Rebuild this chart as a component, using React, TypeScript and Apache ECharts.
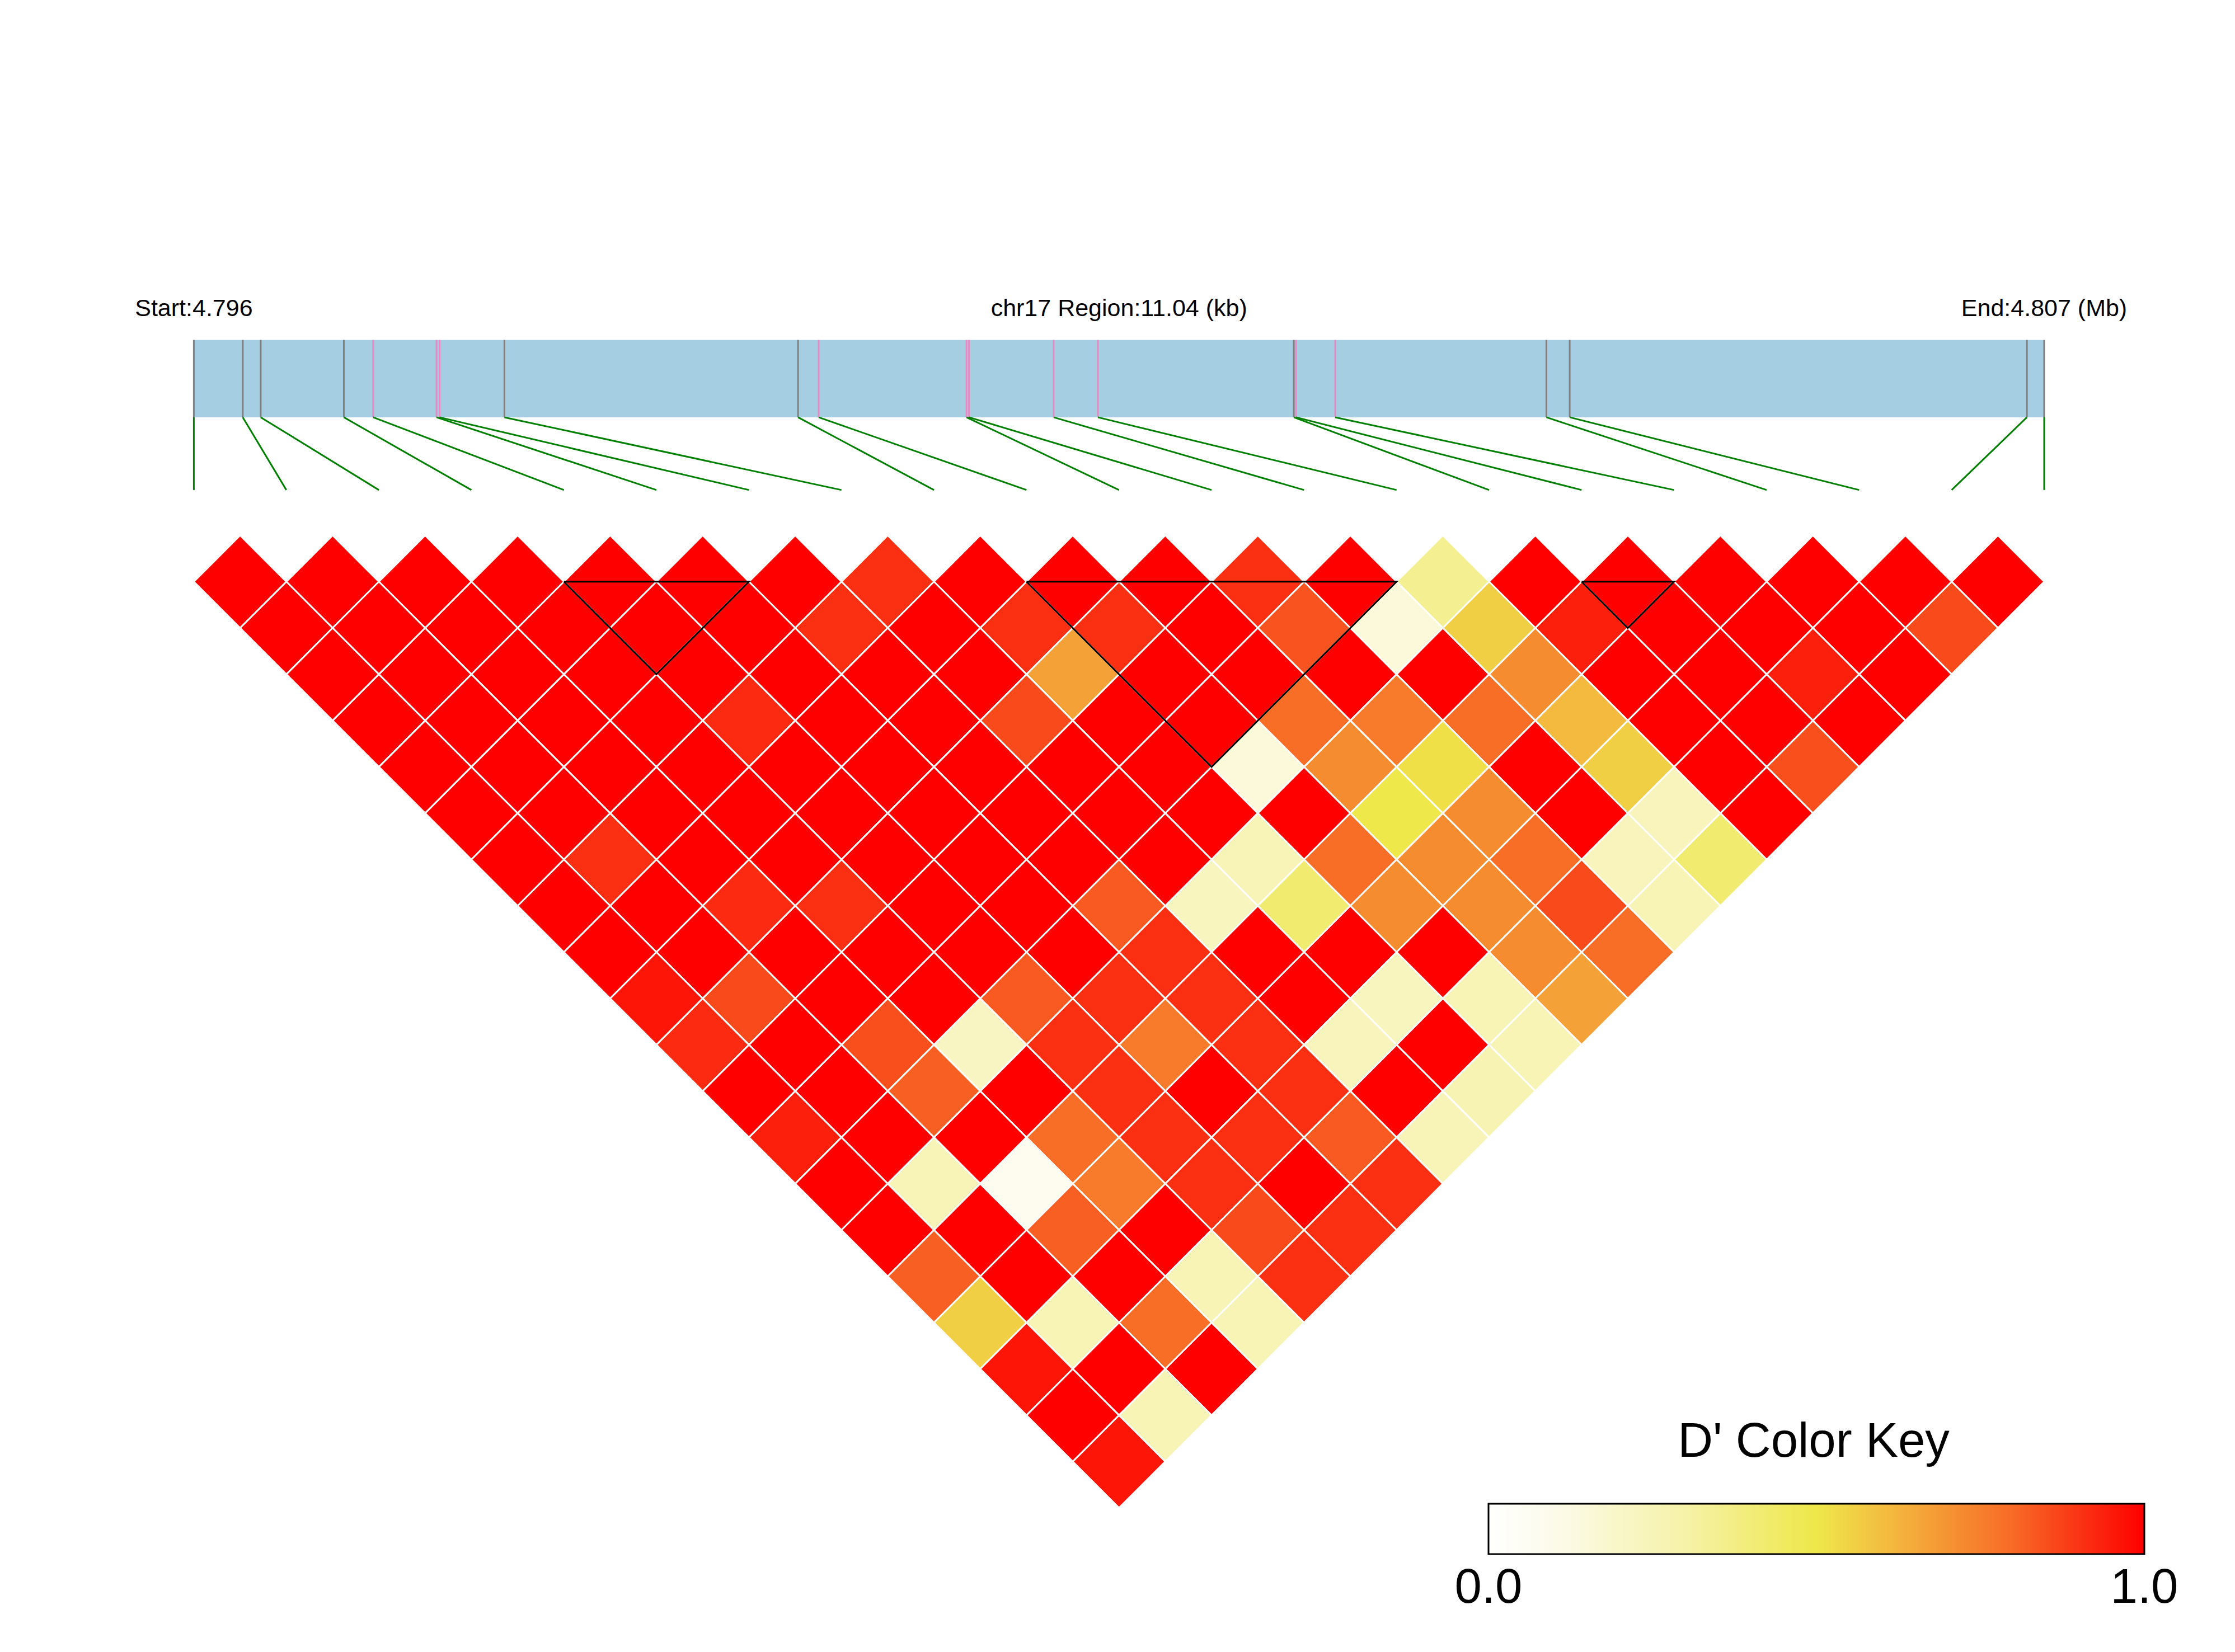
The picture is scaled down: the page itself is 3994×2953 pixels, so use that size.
import React, { useEffect, useRef } from "react";
import * as echarts from "echarts";

// ---------------- data ----------------
const CHROM = "chr17";
const REGION_START_BP = 4796400;
const REGION_END_BP = 4807440;
const SNP_POSITIONS_BP = [
  4796400, 4796692, 4796799, 4797295, 4797470, 4797848, 4797866, 4798253,
  4800005, 4800128, 4801010, 4801025, 4801530, 4801794, 4802963, 4802976,
  4803210, 4804470, 4804609, 4807337, 4807440,
];
// 1 = highlighted (pink) marker, 0 = ordinary (gray) marker
const SNP_HIGHLIGHT = [0, 0, 0, 0, 1, 1, 1, 0, 0, 1, 1, 1, 1, 1, 0, 1, 1, 0, 0, 0, 0];

// D' values, row d holds pairs (i, i+d), i = 0..20-d
const LD_ROWS: number[][] = [
  [1, 1, 1, 1, 1, 1, 1, 0.91, 1, 1, 1, 0.91, 1, 0.35, 1, 1, 1, 1, 1, 1],
  [1, 1, 1, 1, 1, 1, 0.91, 1, 0.91, 0.91, 1, 0.84, 0.15, 0.56, 0.94, 1, 1, 1, 0.86],
  [1, 1, 1, 1, 1, 1, 1, 1, 0.67, 1, 1, 1, 1, 0.72, 1, 1, 0.94, 1],
  [1, 1, 1, 1, 0.92, 1, 1, 0.86, 1, 1, 0.79, 0.76, 0.79, 0.61, 1, 1, 1],
  [1, 1, 1, 1, 1, 1, 1, 1, 1, 0.15, 0.72, 0.52, 1, 0.56, 1, 0.85],
  [1, 1, 1, 1, 1, 1, 1, 1, 1, 1, 0.5, 0.72, 1, 0.24, 1],
  [1, 0.91, 1, 1, 1, 1, 1, 1, 0.25, 0.79, 0.72, 0.79, 0.24, 0.42],
  [1, 1, 0.92, 0.91, 1, 1, 0.83, 0.23, 0.42, 0.72, 0.72, 0.86, 0.26],
  [1, 1, 1, 1, 1, 1, 0.91, 1, 1, 1, 0.72, 0.79],
  [0.96, 0.86, 1, 1, 0.83, 0.91, 0.91, 1, 0.23, 0.26, 0.67],
  [0.92, 1, 0.85, 0.22, 0.91, 0.76, 0.91, 0.24, 1, 0.26],
  [1, 1, 0.82, 1, 0.91, 1, 0.91, 1, 0.27],
  [0.94, 1, 1, 0.79, 0.91, 0.91, 0.83, 0.25],
  [1, 0.25, 0.08, 0.76, 0.91, 1, 0.91],
  [1, 1, 0.82, 1, 0.86, 0.91],
  [0.82, 1, 1, 0.26, 0.91],
  [0.56, 0.26, 0.79, 0.26],
  [0.96, 1, 1],
  [1, 0.26],
  [0.96],
];

// LD blocks: [first SNP index, last SNP index]
const LD_BLOCKS = [
  [4, 6],
  [9, 13],
  [15, 16],
];

const KEY_TITLE = "D' Color Key";
const KEY_LABELS = ["0.0", "1.0"];
const COLOR_STOPS = [
  "#FFFFFF", "#FCFBEA", "#F9F6C8", "#F6F2A8", "#F2EC78", "#EEE84A",
  "#F3BE40", "#F59433", "#F86A26", "#FA3414", "#FF0000",
];

// ---------------- layout constants ----------------
const W = 3994;
const H = 2953;
const GRID_LEFT = 346.4;
const GRID_WIDTH = 3306.6;
const UNIT_V = 82.78;
const DIAMOND_TOP = 957;
const Y_MIN = -5;
const Y_MAX = 21;
const BAR_TOP_V = -4.22;
const BAR_BOTTOM_V = -2.55;
const LINK_BOTTOM_V = -0.98;
const FONT = '"Liberation Sans", Arial, Helvetica, sans-serif';

export default function App() {
  const ref = useRef<HTMLDivElement>(null);

  useEffect(() => {
    if (!ref.current) return;
    const chart = echarts.init(ref.current, undefined, { renderer: "svg" });
    const n = SNP_POSITIONS_BP.length;

    const ldData: number[][] = [];
    LD_ROWS.forEach((row, r) => {
      const d = r + 1;
      row.forEach((val, i) => {
        const j = i + d;
        ldData.push([(i + j) / 2, d, val]);
      });
    });

    const snpData = SNP_POSITIONS_BP.map((p, k) => [
      p,
      REGION_START_BP + (k * (REGION_END_BP - REGION_START_BP)) / (n - 1),
      SNP_HIGHLIGHT[k],
    ]);

    const regionKb = ((REGION_END_BP - REGION_START_BP) / 1000).toFixed(2);
    const startMb = (REGION_START_BP / 1e6).toFixed(3);
    const endMb = (REGION_END_BP / 1e6).toFixed(3);

    const keyX = 2660;
    const keyY = 2688;
    const keyW = 1172;
    const keyH = 90;

    const option: any = {
      animation: false,
      backgroundColor: "#FFFFFF",
      grid: {
        left: GRID_LEFT,
        width: GRID_WIDTH,
        top: DIAMOND_TOP + Y_MIN * UNIT_V,
        height: (Y_MAX - Y_MIN) * UNIT_V,
        containLabel: false,
      },
      xAxis: [
        { type: "value", min: 0, max: n - 1, show: false },
        { type: "value", min: REGION_START_BP, max: REGION_END_BP, show: false },
      ],
      yAxis: { type: "value", min: Y_MIN, max: Y_MAX, inverse: true, show: false },
      visualMap: {
        show: false,
        type: "continuous",
        min: 0,
        max: 1,
        dimension: 2,
        seriesIndex: 0,
        inRange: { color: COLOR_STOPS },
      },
      series: [
        {
          type: "custom",
          coordinateSystem: "cartesian2d",
          xAxisIndex: 0,
          yAxisIndex: 0,
          data: ldData,
          silent: true,
          renderItem: (_p: any, api: any) => {
            const u = api.value(0);
            const v = api.value(1);
            const pts = [
              api.coord([u - 0.5, v]),
              api.coord([u, v - 1]),
              api.coord([u + 0.5, v]),
              api.coord([u, v + 1]),
            ];
            return {
              type: "polygon",
              shape: { points: pts },
              style: { fill: api.visual("color"), stroke: "#FFFFFF", lineWidth: 3 },
            };
          },
        },
        {
          type: "custom",
          coordinateSystem: "cartesian2d",
          xAxisIndex: 0,
          yAxisIndex: 0,
          data: LD_BLOCKS,
          silent: true,
          z: 5,
          renderItem: (_p: any, api: any) => {
            const s = api.value(0);
            const e = api.value(1);
            const a = api.coord([s, 1]);
            const b = api.coord([e, 1]);
            const c = api.coord([(s + e) / 2, 1 + (e - s)]);
            return {
              type: "polyline",
              shape: { points: [a, b, c, a] },
              style: { fill: null, stroke: "#000000", lineWidth: 3 },
            };
          },
        },
        {
          type: "custom",
          coordinateSystem: "cartesian2d",
          xAxisIndex: 1,
          yAxisIndex: 0,
          data: [[REGION_START_BP, REGION_END_BP]],
          silent: true,
          renderItem: (_p: any, api: any) => {
            const p0 = api.coord([api.value(0), BAR_TOP_V]);
            const p1 = api.coord([api.value(1), BAR_BOTTOM_V]);
            return {
              type: "rect",
              shape: { x: p0[0], y: p0[1], width: p1[0] - p0[0], height: p1[1] - p0[1] },
              style: { fill: "#A6CEE3" },
            };
          },
        },
        {
          type: "custom",
          coordinateSystem: "cartesian2d",
          xAxisIndex: 1,
          yAxisIndex: 0,
          data: snpData,
          silent: true,
          z: 3,
          renderItem: (_p: any, api: any) => {
            const pos = api.value(0);
            const even = api.value(1);
            const hl = api.value(2);
            const t = api.coord([pos, BAR_TOP_V]);
            const b = api.coord([pos, BAR_BOTTOM_V]);
            const e = api.coord([even, LINK_BOTTOM_V]);
            return {
              type: "group",
              children: [
                {
                  type: "line",
                  shape: { x1: t[0], y1: t[1], x2: b[0], y2: b[1] },
                  style: { stroke: hl ? "#E78AC3" : "#808080", lineWidth: 3 },
                },
                {
                  type: "line",
                  shape: { x1: b[0], y1: b[1], x2: e[0], y2: e[1] },
                  style: { stroke: "#008000", lineWidth: 3 },
                },
              ],
            };
          },
        },
      ],
      graphic: [
        {
          type: "text",
          x: GRID_LEFT,
          y: 550,
          style: {
            text: `Start:${startMb}`,
            fontSize: 43,
            fontFamily: FONT,
            fill: "#000",
            align: "center",
            verticalAlign: "middle",
            textAlign: "center",
            textVerticalAlign: "middle",
          },
        },
        {
          type: "text",
          x: GRID_LEFT + GRID_WIDTH / 2,
          y: 550,
          style: {
            text: `${CHROM} Region:${regionKb} (kb)`,
            fontSize: 43,
            fontFamily: FONT,
            fill: "#000",
            align: "center",
            verticalAlign: "middle",
            textAlign: "center",
            textVerticalAlign: "middle",
          },
        },
        {
          type: "text",
          x: GRID_LEFT + GRID_WIDTH,
          y: 550,
          style: {
            text: `End:${endMb} (Mb)`,
            fontSize: 43,
            fontFamily: FONT,
            fill: "#000",
            align: "center",
            verticalAlign: "middle",
            textAlign: "center",
            textVerticalAlign: "middle",
          },
        },
        {
          type: "text",
          x: 3241,
          y: 2573,
          style: {
            text: KEY_TITLE,
            fontSize: 87,
            fontFamily: FONT,
            fill: "#000",
            align: "center",
            verticalAlign: "middle",
            textAlign: "center",
            textVerticalAlign: "middle",
          },
        },
        {
          type: "rect",
          shape: { x: keyX, y: keyY, width: keyW, height: keyH },
          style: {
            fill: new echarts.graphic.LinearGradient(
              0,
              0,
              1,
              0,
              COLOR_STOPS.map((c, k) => ({ offset: k / (COLOR_STOPS.length - 1), color: c }))
            ),
            stroke: "#000000",
            lineWidth: 3,
          },
        },
        {
          type: "text",
          x: keyX,
          y: 2834,
          style: {
            text: KEY_LABELS[0],
            fontSize: 87,
            fontFamily: FONT,
            fill: "#000",
            align: "center",
            verticalAlign: "middle",
            textAlign: "center",
            textVerticalAlign: "middle",
          },
        },
        {
          type: "text",
          x: keyX + keyW,
          y: 2834,
          style: {
            text: KEY_LABELS[1],
            fontSize: 87,
            fontFamily: FONT,
            fill: "#000",
            align: "center",
            verticalAlign: "middle",
            textAlign: "center",
            textVerticalAlign: "middle",
          },
        },
      ],
    };

    chart.setOption(option);
    return () => {
      chart.dispose();
    };
  }, []);

  return (
    <div
      ref={ref}
      style={{ position: "absolute", left: 0, top: 0, width: W, height: H, background: "#FFFFFF" }}
    />
  );
}
